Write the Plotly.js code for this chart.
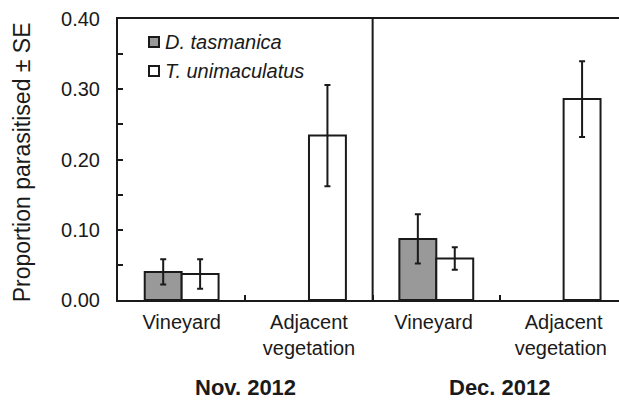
<!DOCTYPE html>
<html>
<head>
<meta charset="utf-8">
<script src="https://cdn.plot.ly/plotly-3.0.1.min.js"></script>
<style>html,body{margin:0;padding:0;background:#fff;}#chart{width:619px;height:400px;}</style>
</head>
<body>
<div id="chart"></div>
<script>
var categories = ["Vineyard", "Adjacent<br>vegetation", "Vineyard ", "Adjacent<br>vegetation "];
var groupLabels = ["Nov. 2012", "Dec. 2012"];
var seriesNames = ["D. tasmanica", "T. unimaculatus"];
var seriesColors = ["#999999", "#ffffff"];
var dtasValues = [0.040, null, 0.087, null];
var dtasSE = [0.018, null, 0.035, null];
var tuniValues = [0.037, 0.234, 0.059, 0.286];
var tuniSE = [0.021, 0.072, 0.016, 0.054];
var yTickVals = [0, 0.1, 0.2, 0.3, 0.4];
var yTickText = ["0.00", "0.10", "0.20", "0.30", "0.40"];

var font = "Liberation Sans, Arial, sans-serif";
var ink = "#1a1a1a";

var traces = [
  {
    type: "bar", name: seriesNames[0], x: categories, y: dtasValues, showlegend: false,
    marker: {color: seriesColors[0], line: {color: ink, width: 2}},
    error_y: {type: "data", array: dtasSE, visible: true, color: ink, thickness: 2, width: 3}
  },
  {
    type: "bar", name: seriesNames[1], x: categories, y: tuniValues, showlegend: false,
    marker: {color: seriesColors[1], line: {color: ink, width: 2}},
    error_y: {type: "data", array: tuniSE, visible: true, color: ink, thickness: 2, width: 3}
  }
];

// plot area in pixels: x 118..619, y 19..300
function px(x) { return (x - 118) / 501; }
function py(y) { return (300 - y) / 281; }

var legendRowsY = [42, 71];
var shapes = [
  {type: "line", xref: "x", yref: "paper", x0: 1.5, x1: 1.5, y0: 0, y1: 1, line: {color: ink, width: 2}}
];
var annotations = [
  {text: "Proportion parasitised ± SE", xref: "paper", yref: "paper",
   x: px(22), y: 0.49, xanchor: "center", yanchor: "middle", textangle: -90,
   showarrow: false, font: {family: font, size: 23, color: ink}},
  {text: "<b>" + groupLabels[0] + "</b>", xref: "x", yref: "paper", x: 0.5, y: -88/281,
   xanchor: "center", yanchor: "middle", showarrow: false, font: {family: font, size: 22, color: ink}},
  {text: "<b>" + groupLabels[1] + "</b>", xref: "x", yref: "paper", x: 2.5, y: -88/281,
   xanchor: "center", yanchor: "middle", showarrow: false, font: {family: font, size: 22, color: ink}}
];
seriesNames.forEach(function (name, i) {
  var cy = legendRowsY[i];
  shapes.push({type: "rect", xref: "paper", yref: "paper",
    x0: px(149), x1: px(159), y0: py(cy + 5), y1: py(cy - 5),
    fillcolor: seriesColors[i], line: {color: ink, width: 2}});
  annotations.push({text: "<i>" + name + "</i>", xref: "paper", yref: "paper",
    x: px(163), y: py(cy), xanchor: "left", yanchor: "middle", showarrow: false,
    font: {family: font, size: 20, color: ink}});
});

var layout = {
  width: 619, height: 400,
  margin: {l: 118, r: 0, t: 19, b: 100},
  paper_bgcolor: "#fff", plot_bgcolor: "#fff",
  font: {family: font, size: 20, color: ink},
  barmode: "group", bargap: 0.42, bargroupgap: 0,
  showlegend: false,
  xaxis: {
    type: "category", range: [-0.5, 3.435],
    showline: true, linecolor: ink, linewidth: 2, mirror: true,
    ticks: "inside", tickson: "boundaries", ticklen: 5, tickwidth: 2, tickcolor: ink,
    tickfont: {family: font, size: 20, color: ink},
    ticklabelstandoff: 3,
    showgrid: false, zeroline: false, fixedrange: true
  },
  yaxis: {
    range: [0, 0.4],
    tickvals: yTickVals, ticktext: yTickText,
    ticks: "inside", ticklen: 5, tickwidth: 2, tickcolor: ink,
    minor: {dtick: 0.05, ticks: "inside", ticklen: 5, tickwidth: 2, tickcolor: ink, showgrid: false},
    showline: true, linecolor: ink, linewidth: 2,
    showgrid: false, zeroline: false,
    tickfont: {family: font, size: 20, color: ink},
    ticklabelstandoff: 12
  },
  shapes: shapes,
  annotations: annotations
};

Plotly.newPlot("chart", traces, layout, {displayModeBar: false, staticPlot: true});
</script>
</body>
</html>
